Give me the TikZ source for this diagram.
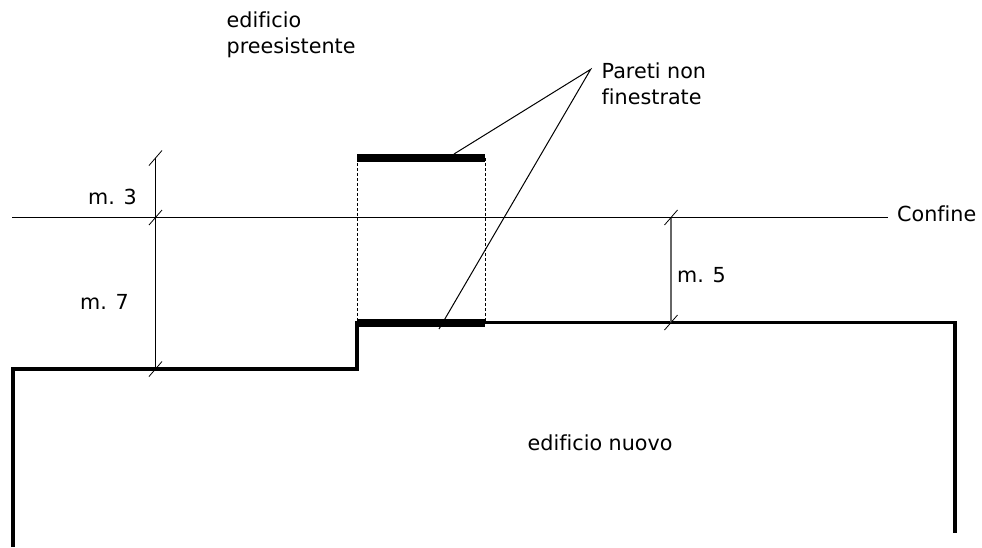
\documentclass[tikz,border=0pt]{standalone}
\usepackage{fontspec}
\setmainfont[Ligatures=NoCommon]{DejaVu Sans}
\usetikzlibrary{calc}
\tikzset{
  wall/.style={line width=3.5pt,line cap=butt,line join=miter},
  blind/.style={line width=8pt},
  thin line/.style={line width=1pt},
  label/.style={anchor=west,inner sep=0pt,align=left,font=\fontsize{20.7}{26}\selectfont},
  tick/.style={line width=0.8pt}
}
\newcommand{\dimtick}[1]{\draw[tick] ($(#1)+(-6.5,7.5)$) -- ($(#1)+(6.5,-7.5)$);}
\begin{document}
\begin{tikzpicture}[x=1pt,y=-1pt]
\useasboundingbox (0,0) rectangle (982,547);

% new building outline
\draw[wall] (13,547) -- (13,369) -- (357,369) -- (357,322.5) -- (955,322.5) -- (955,533);

% blind walls
\coordinate (ua) at (357,158);
\coordinate (ub) at (485,158);
\coordinate (la) at (357,323);
\coordinate (lb) at (485,323);
\draw[blind] (ua) -- (ub);
\draw[blind] (la) -- (lb);
\draw[densely dashed,line width=0.7pt] (ua) -- (la);
\draw[densely dashed,line width=0.7pt] (ub) -- (lb);

% boundary
\node[label] (confine) at (897,214) {Confine};
\coordinate (cl) at (12,217.5);
\coordinate (cr) at (888,217.5);
\draw[line width=1.8pt] (cl) -- (cr);

% leaders
\node[label] (pareti) at (601.5,84) {Pareti non\\finestrate};
\coordinate (apex) at (590.7,69.3);
\coordinate (pu) at (454,154);
\coordinate (pl) at (439,329);
\draw[thin line] (pu) -- (apex) -- (pl);

% dimensions
\coordinate (d1) at (155.5,158);
\coordinate (d2) at (155.5,217.5);
\coordinate (d3) at (155.5,369);
\draw[thin line] (d1) -- (d3);
\dimtick{d1}
\dimtick{d2}
\dimtick{d3}
\coordinate (d4) at (671,217.5);
\coordinate (d5) at (671,322.5);
\draw[line width=1.3pt,black!60] (d4) -- (d5);
\dimtick{d4}
\dimtick{d5}

\node[label] (m3) at (88,197) {m. 3};
\node[label] (m7) at (80,302) {m. 7};
\node[label] (m5) at (677,275) {m. 5};
\node[label] (vecchio) at (226.5,34.5) {edificio\\preesistente};
\node[label] (nuovo) at (527.5,443) {edificio nuovo};
\end{tikzpicture}
\end{document}
